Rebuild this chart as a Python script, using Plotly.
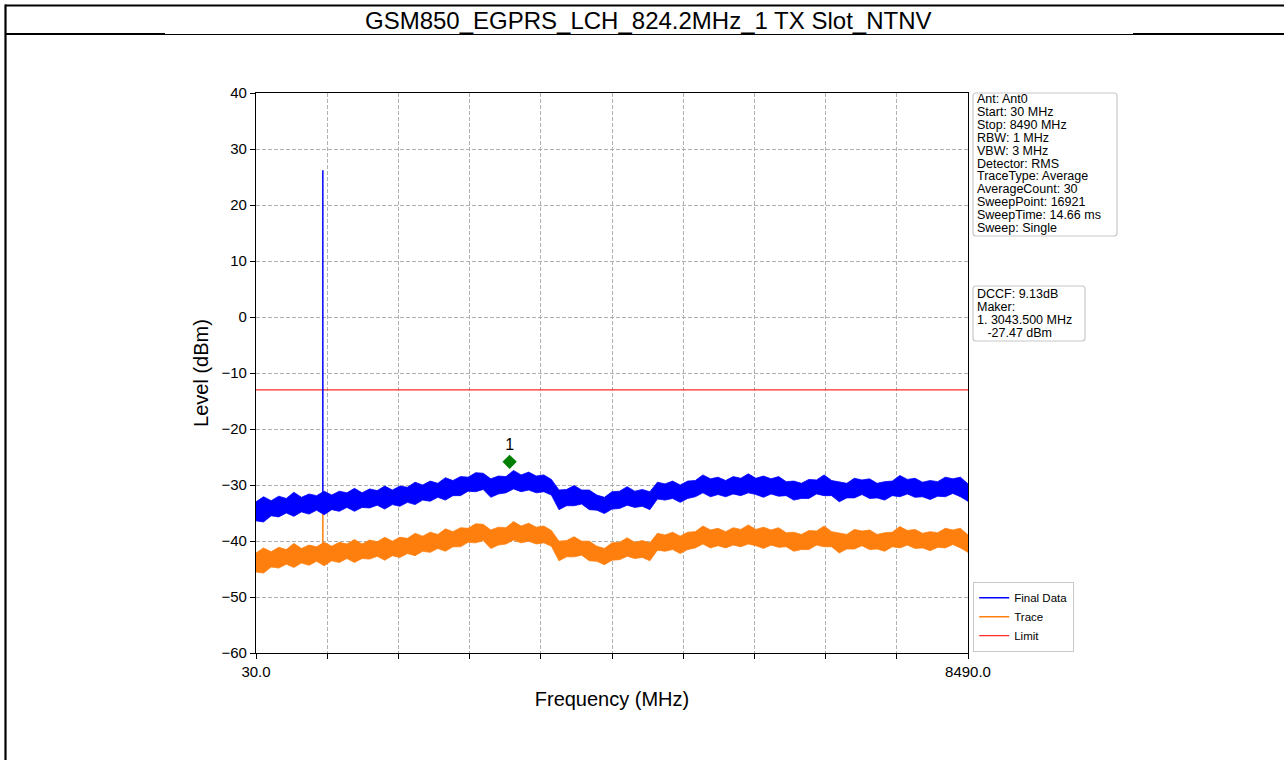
import numpy as np
import plotly.graph_objects as go

# ---------------- data ----------------
title_text = "GSM850_EGPRS_LCH_824.2MHz_1 TX Slot_NTNV"
start_mhz, stop_mhz = 30.0, 8490.0
freq = np.arange(30, 8491, 90)  # sweep grid (MHz), 95 points

# Final Data envelope (upper / lower edge of the noisy trace), dBm
final_upper = [-33.0, -32.1, -32.8, -32.0, -32.4, -31.3, -32.2, -31.6, -31.9, -31.1,
               -31.8, -31.1, -31.4, -30.6, -31.4, -30.7, -31.0, -30.2, -30.9, -30.2,
               -30.4, -29.5, -30.0, -29.3, -29.7, -28.7, -29.2, -28.5, -28.6, -27.8,
               -27.9, -28.9, -28.4, -28.5, -27.4, -28.2, -27.7, -28.4, -28.2, -29.0,
               -30.9, -30.8, -30.1, -30.9, -30.9, -31.8, -32.2, -31.2, -31.1, -30.3,
               -31.1, -30.8, -31.2, -29.5, -29.8, -29.3, -30.0, -29.3, -29.2, -28.2,
               -28.9, -28.6, -29.2, -28.5, -28.8, -28.0, -28.8, -28.4, -28.9, -28.5,
               -29.4, -29.3, -29.7, -29.0, -29.1, -28.2, -29.2, -29.5, -29.7, -28.8,
               -29.1, -28.9, -29.7, -29.4, -29.3, -28.3, -29.0, -28.8, -29.5, -29.2,
               -29.4, -28.6, -28.9, -28.6, -29.8]
final_lower = [-36.4, -36.6, -35.5, -35.7, -35.0, -35.6, -34.8, -35.2, -34.5, -35.3,
               -34.4, -34.7, -34.0, -34.7, -34.0, -34.1, -33.6, -34.3, -33.5, -33.8,
               -33.1, -33.5, -32.7, -32.9, -32.2, -32.7, -31.9, -31.9, -31.1, -31.2,
               -30.8, -32.2, -31.6, -31.4, -30.7, -31.2, -30.9, -31.4, -31.2, -31.8,
               -34.4, -33.7, -33.7, -33.4, -34.4, -34.5, -35.1, -34.3, -34.2, -33.6,
               -34.0, -33.8, -34.4, -32.5, -32.7, -32.4, -33.1, -32.4, -32.1, -31.4,
               -32.1, -31.7, -32.1, -31.6, -31.9, -31.4, -31.7, -32.2, -31.6, -32.0,
               -31.9, -32.7, -32.4, -32.4, -31.6, -31.9, -31.9, -33.0, -32.3, -32.3,
               -31.7, -32.4, -32.3, -32.7, -31.9, -32.1, -31.6, -32.2, -32.1, -32.6,
               -32.0, -32.1, -31.5, -32.1, -32.9]

dccf_db = 9.13                      # Final Data = Trace + DCCF
carrier_mhz = 824.2
final_spike = [-33.5, 26.2]         # carrier spike, Final Data (dBm)
trace_spike = [-42.5, -33.8]        # carrier spike, Trace (dBm)
limit_dbm = -13.0
marker_mhz = 3043.5
marker_dbm = -27.47

info_lines = ["Ant: Ant0", "Start: 30 MHz", "Stop: 8490 MHz", "RBW: 1 MHz", "VBW: 3 MHz",
              "Detector: RMS", "TraceType: Average", "AverageCount: 30",
              "SweepPoint: 16921", "SweepTime: 14.66 ms", "Sweep: Single"]
x_ticks = [30 + 846 * k for k in range(11)]
x_ticktext = ["30.0"] + [""] * 9 + ["8490.0"]

trace_upper = [v - dccf_db for v in final_upper]
trace_lower = [v - dccf_db for v in final_lower]

# ---------------- layout geometry (pixels) ----------------
W, H = 1284, 760
L, R, T, B = 256, 968, 93, 653
def X(px): return (px - L) / (R - L)
def Y(py): return (B - py) / (B - T)

BLUE = "#0000ff"
ORANGE = "#ff7f0e"
RED = "#ff2a2a"
FONT = "Arial, Liberation Sans, Helvetica, sans-serif"

fig = go.Figure()
fx = list(freq) + list(freq[::-1])

# Trace (orange) band + spike
fig.add_trace(go.Scatter(x=fx, y=trace_upper + trace_lower[::-1], fill="toself",
                         fillcolor=ORANGE, line=dict(color=ORANGE, width=0.8),
                         mode="lines", showlegend=False, hoverinfo="skip"))
fig.add_trace(go.Scatter(x=[carrier_mhz, carrier_mhz], y=trace_spike, mode="lines",
                         line=dict(color=ORANGE, width=1.5), name="Trace", legendrank=2))
# Limit
fig.add_trace(go.Scatter(x=[start_mhz, stop_mhz], y=[limit_dbm, limit_dbm], mode="lines",
                         line=dict(color=RED, width=1.3), name="Limit", legendrank=3))
# Final Data (blue) band + spike
fig.add_trace(go.Scatter(x=fx, y=final_upper + final_lower[::-1], fill="toself",
                         fillcolor=BLUE, line=dict(color=BLUE, width=0.8),
                         mode="lines", showlegend=False, hoverinfo="skip"))
fig.add_trace(go.Scatter(x=[carrier_mhz, carrier_mhz], y=final_spike, mode="lines",
                         line=dict(color=BLUE, width=1.5), name="Final Data", legendrank=1))
# Marker
fig.add_trace(go.Scatter(x=[marker_mhz], y=[marker_dbm + 1.6], mode="markers+text",
                         marker=dict(symbol="diamond", color="#008000", size=11),
                         text=["1"], textposition="top center",
                         textfont=dict(family=FONT, size=16, color="black"),
                         showlegend=False))

axis_common = dict(showline=True, linecolor="black", linewidth=1.2, mirror=True,
                   ticks="outside", ticklen=5, tickcolor="black", tickwidth=1,
                   showgrid=True, gridcolor="#b0b0b0", gridwidth=0.8, griddash="4px,2px",
                   zeroline=False, tickfont=dict(family=FONT, size=15, color="black"))

fig.update_xaxes(range=[start_mhz, stop_mhz], tickvals=x_ticks, ticktext=x_ticktext,
                 title=dict(text="Frequency (MHz)", font=dict(family=FONT, size=20, color="black"),
                            standoff=12),
                 **axis_common)
fig.update_yaxes(range=[-60, 40], dtick=10,
                 title=dict(text="Level (dBm)", font=dict(family=FONT, size=20, color="black"),
                            standoff=7),
                 **axis_common)

def rounded_rect(x0, y0, x1, y1, r=3):
    rx, ry = r / (R - L), r / (B - T)
    a, b, c, d = X(x0), Y(y0), X(x1), Y(y1)
    return (f"M {a+rx},{b} L {c-rx},{b} Q {c},{b} {c},{b-ry} L {c},{d+ry} Q {c},{d} {c-rx},{d} "
            f"L {a+rx},{d} Q {a},{d} {a},{d+ry} L {a},{b-ry} Q {a},{b} {a+rx},{b} Z")

shapes = [
    dict(type="path", xref="paper", yref="paper", path=rounded_rect(973, 93, 1117, 236),
         line=dict(color="#c8c8c8", width=1.2), fillcolor="white", layer="above"),
    dict(type="path", xref="paper", yref="paper", path=rounded_rect(973, 286, 1085, 341),
         line=dict(color="#c8c8c8", width=1.2), fillcolor="white", layer="above"),
    # page frame lines
    dict(type="line", xref="paper", yref="paper", x0=X(5), x1=X(1284), y0=Y(5.5), y1=Y(5.5),
         line=dict(color="black", width=2.2)),
    dict(type="line", xref="paper", yref="paper", x0=X(5.5), x1=X(5.5), y0=Y(4.5), y1=Y(760),
         line=dict(color="black", width=2.2)),
    dict(type="line", xref="paper", yref="paper", x0=X(5), x1=X(165), y0=Y(34), y1=Y(34),
         line=dict(color="black", width=2.2)),
    dict(type="line", xref="paper", yref="paper", x0=X(165), x1=X(1133), y0=Y(34.5), y1=Y(34.5),
         line=dict(color="black", width=1)),
    dict(type="line", xref="paper", yref="paper", x0=X(1133), x1=X(1284), y0=Y(34), y1=Y(34),
         line=dict(color="black", width=2.2)),
]

annotations = []
for i, line in enumerate(info_lines):
    annotations.append(dict(xref="paper", yref="paper", x=X(975), y=Y(99 + 12.9 * i),
                            xanchor="left", yanchor="middle", showarrow=False, text=line,
                            font=dict(family=FONT, size=12.5, color="black")))
marker_lines = [f"DCCF: {dccf_db:.2f}dB", "Maker:", f"1. {marker_mhz:.3f} MHz",
                "\u00a0\u00a0\u00a0" + f"{marker_dbm:.2f} dBm"]
for i, line in enumerate(marker_lines):
    annotations.append(dict(xref="paper", yref="paper", x=X(975), y=Y(294 + 12.9 * i),
                            xanchor="left", yanchor="middle", showarrow=False, text=line,
                            font=dict(family=FONT, size=12.5, color="black")))
annotations.append(dict(xref="paper", yref="paper", x=X(647.5), y=Y(20), xanchor="center",
                        yanchor="middle", showarrow=False, text=title_text,
                        font=dict(family=FONT, size=24, color="black")))

fig.update_layout(
    width=W, height=H, autosize=False,
    margin=dict(l=L, r=W - R, t=T, b=H - B, pad=0),
    paper_bgcolor="white", plot_bgcolor="white",
    shapes=shapes, annotations=annotations,
    legend=dict(x=X(973), y=Y(652), xanchor="left", yanchor="bottom",
                bgcolor="white", bordercolor="#c8c8c8", borderwidth=1.2,
                font=dict(family=FONT, size=11.5, color="black"),
                itemwidth=30, tracegroupgap=0),
    showlegend=True,
)

fig.write_html("out.html", config={"displayModeBar": False},
               post_script="document.body.style.margin='0px';document.body.style.overflow='hidden';")
